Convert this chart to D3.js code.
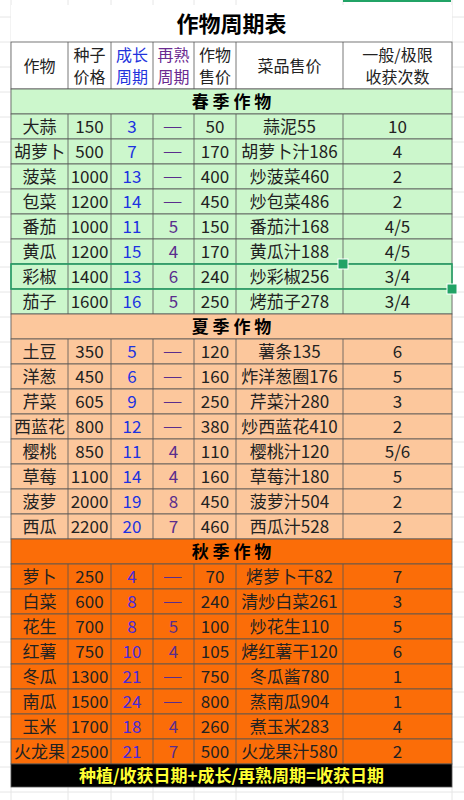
<!DOCTYPE html>
<html><head><meta charset="utf-8">
<script src="https://cdn.jsdelivr.net/npm/d3@7"></script>
<style>body{margin:0;background:#fff}text{font-family:"Noto Sans CJK SC",Roboto,sans-serif}</style>
</head><body><svg id="c" width="464" height="800"></svg>
<script>
var colEdges = [11, 68, 111, 153, 194, 236, 343, 452];
var headers = [["作物"], ["种子", "价格"], ["成长", "周期"], ["再熟", "周期"], ["作物", "售价"], ["菜品售价"], ["一般/极限", "收获次数"]];
var seasons = ["春 季 作 物", "夏 季 作 物", "秋 季 作 物"];
var seasonColors = ["#ccf7cc", "#fcc79c", "#fb6d08"];
var growColors = ["#1d33e0", "#1d33e0", "#4a2ad8"];
var spring = [
  ["大蒜", 150, 3, "——", 50, "蒜泥55", "10"],
  ["胡萝卜", 500, 7, "——", 170, "胡萝卜汁186", "4"],
  ["菠菜", 1000, 13, "——", 400, "炒菠菜460", "2"],
  ["包菜", 1200, 14, "——", 450, "炒包菜486", "2"],
  ["番茄", 1000, 11, 5, 150, "番茄汁168", "4/5"],
  ["黄瓜", 1200, 15, 4, 170, "黄瓜汁188", "4/5"],
  ["彩椒", 1400, 13, 6, 240, "炒彩椒256", "3/4"],
  ["茄子", 1600, 16, 5, 250, "烤茄子278", "3/4"]];
var summer = [
  ["土豆", 350, 5, "——", 120, "薯条135", "6"],
  ["洋葱", 450, 6, "——", 160, "炸洋葱圈176", "5"],
  ["芹菜", 605, 9, "——", 250, "芹菜汁280", "3"],
  ["西蓝花", 800, 12, "——", 380, "炒西蓝花410", "2"],
  ["樱桃", 850, 11, 4, 110, "樱桃汁120", "5/6"],
  ["草莓", 1100, 14, 4, 160, "草莓汁180", "5"],
  ["菠萝", 2000, 19, 8, 450, "菠萝汁504", "2"],
  ["西瓜", 2200, 20, 7, 460, "西瓜汁528", "2"]];
var autumn = [
  ["萝卜", 250, 4, "——", 70, "烤萝卜干82", "7"],
  ["白菜", 600, 8, "——", 240, "清炒白菜261", "3"],
  ["花生", 700, 8, 5, 100, "炒花生110", "5"],
  ["红薯", 750, 10, 4, 105, "烤红薯干120", "6"],
  ["冬瓜", 1300, 21, "——", 750, "冬瓜酱780", "1"],
  ["南瓜", 1500, 24, "——", 800, "蒸南瓜904", "1"],
  ["玉米", 1700, 18, 4, 260, "煮玉米283", "4"],
  ["火龙果", 2500, 21, 7, 500, "火龙果汁580", "2"]];
var groups = [spring, summer, autumn];
var title = "作物周期表";
var footer = "种植/收获日期+成长/再熟周期=收获日期";

var svg = d3.select("#c");
// background sheet grid
var bgRows = d3.range(0, 800, 25);
svg.selectAll(".gh").data(bgRows).enter().append("line")
  .attr("x1", 0).attr("x2", 464).attr("y1", function(d){return d + 17;}).attr("y2", function(d){return d + 17;})
  .attr("stroke", "#e6e6e6");
svg.selectAll(".gv").data(colEdges).enter().append("line")
  .attr("x1", function(d){return d;}).attr("x2", function(d){return d;}).attr("y1", 0).attr("y2", 800)
  .attr("stroke", "#e6e6e6");

// row layout
var rows = [];
var y = 42;
rows.push({type: "head", y: y, h: 47}); y += 47;
groups.forEach(function(g, gi) {
  rows.push({type: "season", y: y, h: 25, gi: gi}); y += 25;
  g.forEach(function(r) { rows.push({type: "data", y: y, h: 25, gi: gi, r: r}); y += 25; });
});
rows.push({type: "foot", y: y, h: 23});

var L = colEdges[0], R = colEdges[colEdges.length - 1];
svg.append("rect").attr("x", L).attr("y", 5).attr("width", R - L).attr("height", 37).attr("fill", "#fff");
svg.append("text").attr("x", (L + R) / 2).attr("y", 32).attr("text-anchor", "middle")
  .attr("font-size", 22).attr("font-weight", "bold").text(title);

function fillFor(d) {
  if (d.type == "head") return "#fff";
  if (d.type == "foot") return "#000";
  return seasonColors[d.gi];
}
var rowG = svg.selectAll(".row").data(rows).enter().append("g")
  .attr("transform", function(d){return "translate(0," + d.y + ")";});
rowG.append("rect").attr("x", L).attr("width", R - L).attr("height", function(d){return d.h;})
  .attr("fill", fillFor).attr("stroke", "#555").attr("stroke-width", 0.8);

rowG.each(function(d) {
  var g = d3.select(this);
  if (d.type == "season") {
    g.append("text").attr("x", (L + R) / 2).attr("y", 19).attr("text-anchor", "middle")
      .attr("font-size", 17).attr("font-weight", "bold").text(seasons[d.gi]);
    return;
  }
  if (d.type == "foot") {
    g.append("text").attr("x", (L + R) / 2).attr("y", 18).attr("text-anchor", "middle")
      .attr("font-size", 17).attr("font-weight", "bold").attr("fill", "#ffff33").text(footer);
    return;
  }
  for (var i = 1; i < colEdges.length - 1; i++) {
    g.append("line").attr("x1", colEdges[i]).attr("x2", colEdges[i]).attr("y1", 0).attr("y2", d.h)
      .attr("stroke", "#555").attr("stroke-width", 0.8);
  }
  for (var c = 0; c < 7; c++) {
    var cx = (colEdges[c] + colEdges[c + 1]) / 2;
    var color = "#222";
    if (c == 2) color = d.type == "head" ? "#2233dd" : growColors[d.gi];
    if (c == 3) color = d.type == "head" ? "#6a2a90" : "#5a2d8c";
    if (d.type == "head") {
      var lines = headers[c];
      lines.forEach(function(t, k) {
        var ty = lines.length == 1 ? 30 : 19 + k * 22;
        g.append("text").attr("x", cx).attr("y", ty).attr("text-anchor", "middle")
          .attr("font-size", 16).attr("fill", color).text(t);
      });
    } else {
      var isDash = d.r[c] === "——";
      g.append("text").attr("x", cx).attr("y", isDash ? 17 : 19).attr("text-anchor", "middle")
        .attr("font-size", isDash ? 11 : 17).attr("font-weight", isDash ? "bold" : "normal")
        .attr("letter-spacing", isDash ? 2 : 0).attr("fill", color).text(d.r[c]);
    }
  }
});

// selection box
var sel = rows.filter(function(d){return d.r && d.r[0] == "彩椒";})[0];
svg.append("rect").attr("x", L).attr("y", sel.y).attr("width", R - L).attr("height", sel.h)
  .attr("fill", "none").attr("stroke", "#21a366").attr("stroke-width", 1.5);
svg.selectAll(".hd").data([[colEdges[6], sel.y], [R, sel.y + sel.h]]).enter().append("rect")
  .attr("x", function(d){return d[0] - 5;}).attr("y", function(d){return d[1] - 5;})
  .attr("width", 10).attr("height", 10).attr("fill", "#21a366").attr("stroke", "#fff");
svg.append("rect").attr("x", 343).attr("y", 0).attr("width", 108).attr("height", 2).attr("fill", "#21a366");
</script></body></html>
